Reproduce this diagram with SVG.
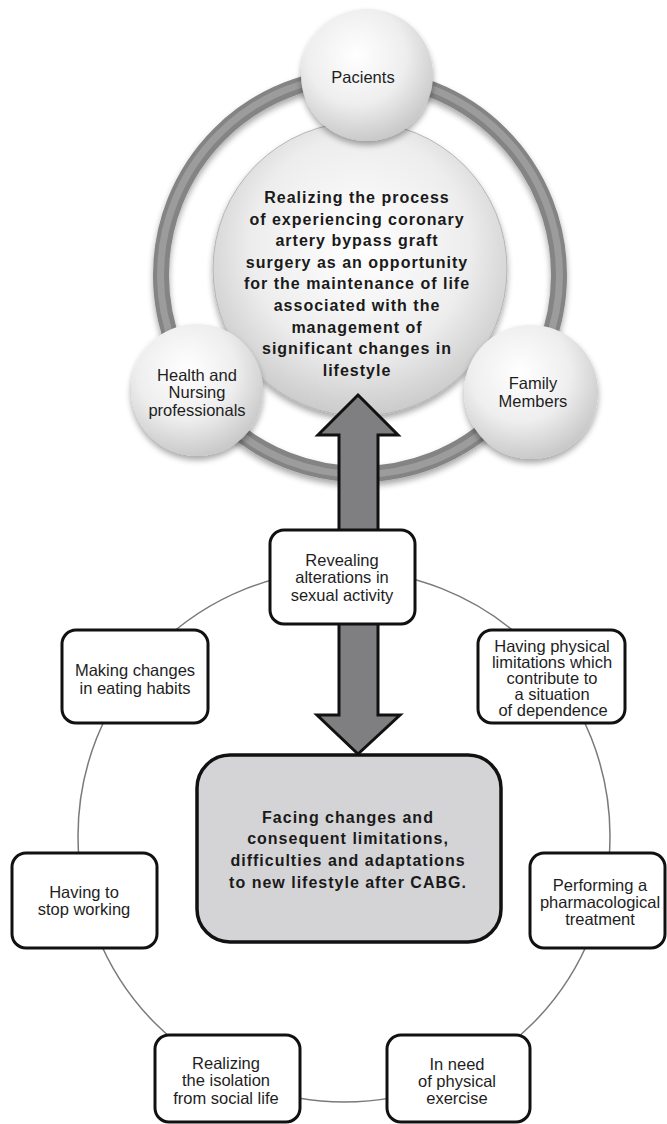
<svg xmlns="http://www.w3.org/2000/svg" width="667" height="1124" viewBox="0 0 667 1124">
<defs>
<radialGradient id="satGrad" cx="42%" cy="35%" r="68%">
<stop offset="0" stop-color="#ffffff"/>
<stop offset="0.55" stop-color="#eeeeee"/>
<stop offset="1" stop-color="#c6c6c6"/>
</radialGradient>
<radialGradient id="cenGrad" cx="50%" cy="42%" r="62%">
<stop offset="0" stop-color="#ffffff"/>
<stop offset="0.6" stop-color="#ededed"/>
<stop offset="1" stop-color="#c4c4c4"/>
</radialGradient>
<filter id="shadow" x="-20%" y="-20%" width="140%" height="150%">
<feGaussianBlur in="SourceAlpha" stdDeviation="3"/>
<feOffset dx="0" dy="4" result="b"/>
<feComponentTransfer><feFuncA type="linear" slope="0.35"/></feComponentTransfer>
<feMerge><feMergeNode/><feMergeNode in="SourceGraphic"/></feMerge>
</filter>
<style>
.reg{font-family:"Liberation Sans",Arial,sans-serif;font-size:16.5px;fill:#1e1e1e;text-anchor:middle}
.bold{font-family:"Liberation Sans",Arial,sans-serif;font-size:16px;font-weight:bold;letter-spacing:1px;fill:#1a1a1a;text-anchor:middle}
.box{fill:#ffffff;stroke:#111111;stroke-width:3}
.sat{fill:url(#satGrad);filter:url(#shadow)}
</style>
</defs>
<rect width="667" height="1124" fill="#ffffff"/>

<g id="connectors">
<circle cx="344" cy="836" r="266" fill="none" stroke="#7a7a7a" stroke-width="1.5"/>
<g id="ring" filter="url(#shadow)">
<circle cx="360" cy="275" r="199" fill="none" stroke="#848484" stroke-width="16"/>
<circle cx="360" cy="275" r="199.5" fill="none" stroke="#9c9c9c" stroke-width="7"/>
</g>
</g>

<g id="center-circle">
<circle cx="360" cy="269" r="147" fill="url(#cenGrad)" stroke="#b5b5b5" stroke-width="1" filter="url(#shadow)"/>
<text class="bold"><tspan x="357" y="203">Realizing the process</tspan><tspan x="357" y="225">of experiencing coronary</tspan><tspan x="357" y="246">artery bypass graft</tspan><tspan x="357" y="268">surgery as an opportunity</tspan><tspan x="357" y="289">for the maintenance of life</tspan><tspan x="357" y="311">associated with the</tspan><tspan x="357" y="333">management of</tspan><tspan x="357" y="354">significant changes in</tspan><tspan x="357" y="376">lifestyle</tspan></text>
</g>

<g id="pacients">
<circle class="sat" cx="367" cy="75" r="66"/>
<text class="reg" x="363" y="83">Pacients</text>
</g>

<g id="health">
<circle class="sat" cx="197" cy="390" r="66"/>
<text class="reg"><tspan x="197" y="381">Health and</tspan><tspan x="197" y="398">Nursing</tspan><tspan x="197" y="416">professionals</tspan></text>
</g>

<g id="family">
<circle class="sat" cx="531" cy="392" r="67"/>
<text class="reg"><tspan x="533" y="389">Family</tspan><tspan x="533" y="407">Members</tspan></text>
</g>

<g id="double-arrow">
<polygon points="358,395 398,435 378,435 378,715 400,715 358,754 317,715 339,715 339,435 318,435" fill="#7f7f82" stroke="#111111" stroke-width="3" stroke-linejoin="miter"/>
</g>

<g id="revealing">
<rect class="box" x="270" y="530" width="145" height="94" rx="14"/>
<text class="reg"><tspan x="342" y="566">Revealing</tspan><tspan x="342" y="583">alterations in</tspan><tspan x="342" y="601">sexual activity</tspan></text>
</g>

<g id="making">
<rect class="box" x="62" y="630" width="146" height="93" rx="14"/>
<text class="reg"><tspan x="135" y="676">Making changes</tspan><tspan x="135" y="694">in eating habits</tspan></text>
</g>

<g id="physical-limitations">
<rect class="box" x="478" y="630" width="147" height="93" rx="14"/>
<text class="reg"><tspan x="552" y="652">Having physical</tspan><tspan x="552" y="668">limitations which</tspan><tspan x="552" y="684">contribute to</tspan><tspan x="552" y="700">a situation</tspan><tspan x="553" y="716">of dependence</tspan></text>
</g>

<g id="main">
<rect x="197" y="755" width="304" height="187" rx="33" fill="#d4d4d6" stroke="#111111" stroke-width="3.5"/>
<text class="bold"><tspan x="348" y="823">Facing changes and</tspan><tspan x="348" y="844">consequent limitations,</tspan><tspan x="348" y="866">difficulties and adaptations</tspan><tspan x="348" y="888">to new lifestyle after CABG.</tspan></text>
</g>

<g id="stop-working">
<rect class="box" x="12" y="853" width="145" height="95" rx="14"/>
<text class="reg"><tspan x="84" y="898">Having to</tspan><tspan x="84" y="915">stop working</tspan></text>
</g>

<g id="pharmacological">
<rect class="box" x="530" y="853" width="135" height="95" rx="14"/>
<text class="reg"><tspan x="600" y="891">Performing a</tspan><tspan x="600" y="908">pharmacological</tspan><tspan x="600" y="925">treatment</tspan></text>
</g>

<g id="isolation">
<rect class="box" x="155" y="1035" width="145" height="87" rx="14"/>
<text class="reg"><tspan x="226" y="1069">Realizing</tspan><tspan x="226" y="1086">the isolation</tspan><tspan x="226" y="1104">from social life</tspan></text>
</g>

<g id="exercise">
<rect class="box" x="387" y="1035" width="143" height="87" rx="14"/>
<text class="reg"><tspan x="457" y="1070">In need</tspan><tspan x="457" y="1087">of physical</tspan><tspan x="457" y="1104">exercise</tspan></text>
</g>
</svg>
